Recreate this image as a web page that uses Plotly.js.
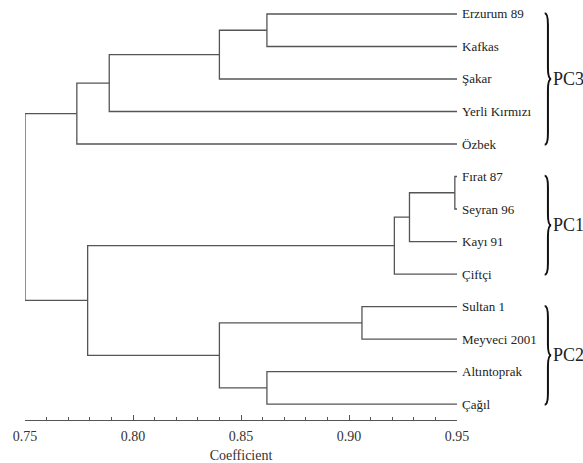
<!DOCTYPE html>
<html>
<head>
<meta charset="utf-8">
<script src="https://cdn.plot.ly/plotly-3.0.1.min.js"></script>
<style>html,body{margin:0;padding:0;background:#fff;}#chart{width:583px;height:463px;}</style>
</head>
<body>
<div id="chart"></div>
<script>
// Leaves, top to bottom
const leaves = ["Erzurum 89","Kafkas","Şakar","Yerli Kırmızı","Özbek","Fırat 87","Seyran 96","Kayı 91","Çiftçi","Sultan 1","Meyveci 2001","Altıntoprak","Çağıl"];
// Merges: child A, child B (leaf index or 13+ for earlier merges), similarity coefficient
const mergeA = [0, 13, 14, 15, 5, 17, 18, 9, 11, 20, 19, 16];
const mergeB = [1, 2, 3, 4, 6, 7, 8, 10, 12, 21, 22, 23];
const mergeH = [0.862, 0.840, 0.789, 0.774, 0.949, 0.928, 0.921, 0.906, 0.862, 0.840, 0.779, 0.750];
const leafCoef = 0.95;
// Groups
const groupNames = ["PC3","PC1","PC2"];
const groupFrom = [0, 5, 9];
const groupTo = [4, 8, 12];
// Axis ticks
const tickVals = [0.75, 0.80, 0.85, 0.90, 0.95];
const tickText = ["0.75","0.80","0.85","0.90","0.95"];

const serif = "'Liberation Serif', 'Times New Roman', Times, serif";
const lineCol = "#555555";

// node positions
const nx = [], ny = [];
leaves.forEach((l,i)=>{ nx.push(leafCoef); ny.push(i); });
const xs = [], ys = [];
for (let k=0;k<mergeA.length;k++){
  const a = mergeA[k], b = mergeB[k], h = mergeH[k];
  xs.push(nx[a], h, h, nx[b], null);
  ys.push(ny[a], ny[a], ny[b], ny[b], null);
  nx.push(h); ny.push((ny[a]+ny[b])/2);
}

const traces = [{
  type:"scatter", mode:"lines", x:xs, y:ys, cliponaxis:false,
  line:{color:lineCol, width:1.3}, hoverinfo:"skip", showlegend:false
}];

const annotations = leaves.map((l,i)=>({
  x: leafCoef, y: i, xref:"x", yref:"y", text:l, showarrow:false,
  xanchor:"left", yanchor:"middle", xshift:3,
  font:{family:serif, size:13, color:"#222"}
}));

const shapes = [];
const bx = 1.203, bw = 0.0075;
groupNames.forEach((g,i)=>{
  const yT = groupFrom[i]-0.02, yB = groupTo[i]+0.02, yM = (yT+yB)/2, r = 0.35;
  const p = `M ${bx},${yT} Q ${bx+bw},${yT} ${bx+bw},${yT+r} L ${bx+bw},${yM-r} Q ${bx+bw},${yM} ${bx+2*bw},${yM} Q ${bx+bw},${yM} ${bx+bw},${yM+r} L ${bx+bw},${yB-r} Q ${bx+bw},${yB} ${bx},${yB}`;
  shapes.push({type:"path", xref:"paper", yref:"y", path:p, line:{color:"#111", width:2}});
  annotations.push({x:bx+2*bw, y:yM, xref:"paper", yref:"y", text:g, showarrow:false,
    xanchor:"left", yanchor:"middle", xshift:0, font:{family:serif, size:18, color:"#222"}});
});

const layout = {
  width:583, height:463,
  margin:{l:25, r:126, t:0, b:43},
  paper_bgcolor:"#fff", plot_bgcolor:"#fff",
  font:{family:serif},
  xaxis:{
    range:[0.75,0.95], tickvals:tickVals, ticktext:tickText,
    ticks:"inside", ticklen:5, tickcolor:lineCol, tickwidth:1,
    minor:{dtick:0.01, tick0:0.75, ticks:"inside", ticklen:3, tickcolor:lineCol, showgrid:false},
    showline:true, linecolor:lineCol, linewidth:1, showgrid:false, zeroline:false,
    ticklabelstandoff:3,
    tickfont:{family:serif, size:14, color:"#333"},
    title:{text:"Coefficient", font:{family:serif, size:14, color:"#333"}, standoff:9}
  },
  yaxis:{range:[12.49,-0.43], visible:false, showgrid:false, zeroline:false},
  shapes:shapes, annotations:annotations, showlegend:false
};
Plotly.newPlot("chart", traces, layout, {staticPlot:true, displayModeBar:false});
</script>
</body>
</html>
